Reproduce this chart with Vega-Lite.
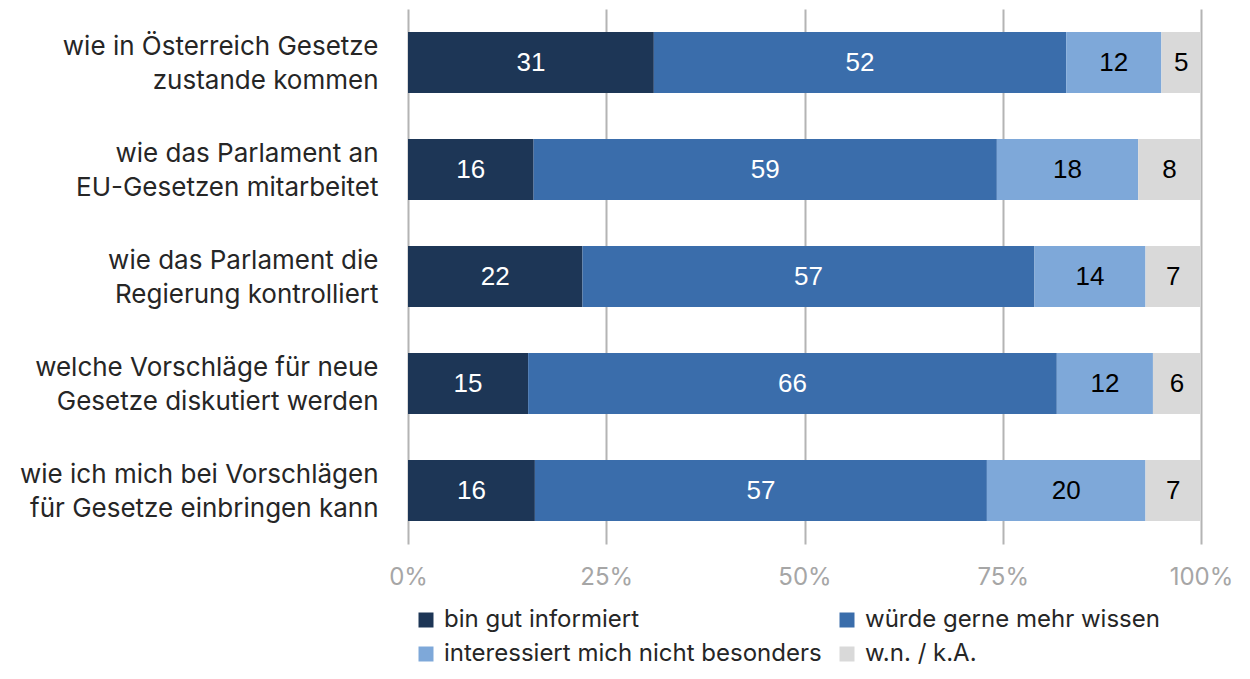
{
  "$schema": "https://vega.github.io/schema/vega-lite/v6.json",
  "width": 793,
  "height": 535,
  "autosize": "none",
  "padding": {"left": 408, "top": 9, "right": 49, "bottom": 135},
  "background": "white",
  "config": {"view": {"stroke": null}, "font": "Inter"},
  "data": {
    "values": [
      {"question": "wie in Österreich Gesetze\nzustande kommen", "category": "bin gut informiert", "value": 31, "order": 1},
      {"question": "wie in Österreich Gesetze\nzustande kommen", "category": "würde gerne mehr wissen", "value": 52, "order": 2},
      {"question": "wie in Österreich Gesetze\nzustande kommen", "category": "interessiert mich nicht besonders", "value": 12, "order": 3},
      {"question": "wie in Österreich Gesetze\nzustande kommen", "category": "w.n. / k.A.", "value": 5, "order": 4},
      {"question": "wie das Parlament an\nEU-Gesetzen mitarbeitet", "category": "bin gut informiert", "value": 16, "order": 1},
      {"question": "wie das Parlament an\nEU-Gesetzen mitarbeitet", "category": "würde gerne mehr wissen", "value": 59, "order": 2},
      {"question": "wie das Parlament an\nEU-Gesetzen mitarbeitet", "category": "interessiert mich nicht besonders", "value": 18, "order": 3},
      {"question": "wie das Parlament an\nEU-Gesetzen mitarbeitet", "category": "w.n. / k.A.", "value": 8, "order": 4},
      {"question": "wie das Parlament die\nRegierung kontrolliert", "category": "bin gut informiert", "value": 22, "order": 1},
      {"question": "wie das Parlament die\nRegierung kontrolliert", "category": "würde gerne mehr wissen", "value": 57, "order": 2},
      {"question": "wie das Parlament die\nRegierung kontrolliert", "category": "interessiert mich nicht besonders", "value": 14, "order": 3},
      {"question": "wie das Parlament die\nRegierung kontrolliert", "category": "w.n. / k.A.", "value": 7, "order": 4},
      {"question": "welche Vorschläge für neue\nGesetze diskutiert werden", "category": "bin gut informiert", "value": 15, "order": 1},
      {"question": "welche Vorschläge für neue\nGesetze diskutiert werden", "category": "würde gerne mehr wissen", "value": 66, "order": 2},
      {"question": "welche Vorschläge für neue\nGesetze diskutiert werden", "category": "interessiert mich nicht besonders", "value": 12, "order": 3},
      {"question": "welche Vorschläge für neue\nGesetze diskutiert werden", "category": "w.n. / k.A.", "value": 6, "order": 4},
      {"question": "wie ich mich bei Vorschlägen\nfür Gesetze einbringen kann", "category": "bin gut informiert", "value": 16, "order": 1},
      {"question": "wie ich mich bei Vorschlägen\nfür Gesetze einbringen kann", "category": "würde gerne mehr wissen", "value": 57, "order": 2},
      {"question": "wie ich mich bei Vorschlägen\nfür Gesetze einbringen kann", "category": "interessiert mich nicht besonders", "value": 20, "order": 3},
      {"question": "wie ich mich bei Vorschlägen\nfür Gesetze einbringen kann", "category": "w.n. / k.A.", "value": 7, "order": 4}
    ]
  },
  "transform": [
    {"stack": "value", "groupby": ["question"], "sort": [{"field": "order"}], "offset": "normalize", "as": ["x0", "x1"]},
    {"calculate": "(datum.x0 + datum.x1) / 2", "as": "xm"}
  ],
  "encoding": {
    "y": {
      "field": "question",
      "type": "nominal",
      "sort": null,
      "title": null,
      "scale": {"paddingInner": 0.43, "paddingOuter": 0.215},
      "axis": {
        "domain": false,
        "ticks": false,
        "labelPadding": 30,
        "labelFontSize": 26,
        "labelColor": "#262626",
        "labelLineHeight": 34,
        "labelLimit": 500,
        "labelOffset": -16,
        "labelExpr": "split(datum.label, '\\n')"
      }
    }
  },
  "layer": [
    {
      "mark": {"type": "bar"},
      "encoding": {
        "x": {
          "field": "x0",
          "type": "quantitative",
          "title": null,
          "scale": {"domain": [0, 1]},
          "axis": {
            "values": [0, 0.25, 0.5, 0.75, 1],
            "format": "%",
            "grid": true,
            "gridColor": "#b4b4b4",
            "gridWidth": 2,
            "domain": false,
            "ticks": false,
            "labelFlush": false,
            "labelColor": "#a6a6a6",
            "labelFontSize": 24,
            "labelPadding": 21
          }
        },
        "x2": {"field": "x1"},
        "color": {
          "field": "category",
          "type": "nominal",
          "title": null,
          "scale": {
            "domain": ["bin gut informiert", "würde gerne mehr wissen", "interessiert mich nicht besonders", "w.n. / k.A."],
            "range": ["#1d3656", "#3a6dab", "#7ea8d9", "#d9d9d9"]
          },
          "legend": {
            "orient": "bottom",
            "direction": "horizontal",
            "columns": 2,
            "symbolType": "square",
            "symbolSize": 225,
            "symbolStrokeWidth": 0,
            "labelFontSize": 24,
            "labelColor": "#262626",
            "labelLimit": 500,
            "labelOffset": 6,
            "rowPadding": 10,
            "columnPadding": 13,
            "offset": 13,
            "padding": 6
          }
        }
      }
    },
    {
      "mark": {"type": "text", "font": "Liberation Sans", "fontSize": 26},
      "encoding": {
        "x": {"field": "xm", "type": "quantitative"},
        "text": {"field": "value", "type": "quantitative"},
        "color": {"condition": {"test": "datum.order <= 2", "value": "#ffffff"}, "value": "#000000"}
      }
    }
  ]
}
